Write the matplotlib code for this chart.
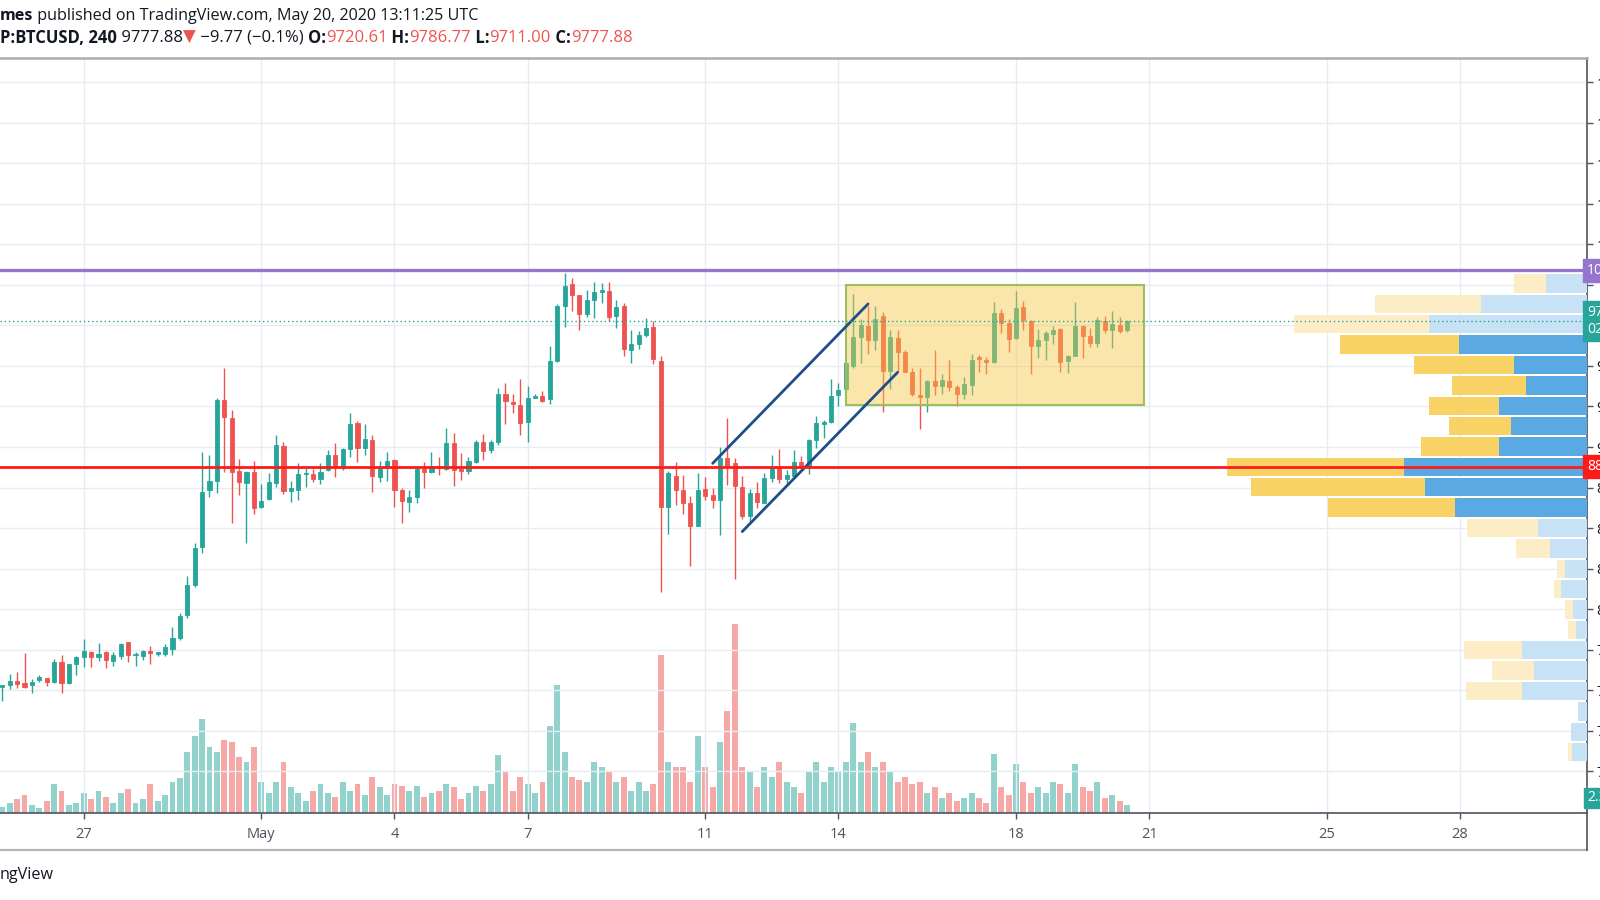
import datetime as dt
import numpy as np
import matplotlib
matplotlib.use('Agg')
import matplotlib.pyplot as plt
import matplotlib.dates as mdates
import matplotlib.transforms as mtransforms
from matplotlib.patches import Rectangle
from matplotlib.lines import Line2D

plt.rcParams['font.family'] = ['Open Sans', 'DejaVu Sans']

# BTCUSD 4h candles, first bar Apr 25 2020 04:00 UTC
start = dt.datetime(2020, 4, 25, 4)
opens = [7520, 7531, 7558, 7541, 7533, 7562, 7574, 7547, 7675, 7543, 7660, 7701, 7732, 7706, 7732, 7681,
         7712, 7794, 7716, 7712, 7743, 7722, 7722, 7753, 7821, 7963, 8148, 8380, 8734, 8790, 9290, 9181,
         8854, 8776, 8848, 8627, 8677, 8780, 9006, 8730, 8734, 8831, 8833, 8800, 8858, 8951, 8868, 8986,
         9150, 8992, 9043, 8813, 8868, 8920, 8734, 8662, 8693, 8862, 8848, 8882, 8862, 9022, 8862, 8854,
         8909, 9033, 8981, 9033, 9325, 9280, 9259, 9156, 9304, 9317, 9294, 9531, 9872, 10004, 9938, 9821,
         9907, 9959, 9965, 9809, 9870, 9597, 9634, 9691, 9743, 9528, 8628, 8818, 8735, 8653, 8513, 8742,
         8704, 8670, 8931, 8900, 8752, 8575, 8715, 8657, 8807, 8869, 8801, 8822, 8910, 8875, 9044, 9141,
         9157, 9322, 9357, 9500, 9682, 9744, 9662, 9810, 9472, 9672, 9589, 9466, 9324, 9308, 9406, 9377,
         9410, 9373, 9328, 9380, 9554, 9538, 9522, 9830, 9764, 9672, 9867, 9775, 9624, 9662, 9699, 9727,
         9528, 9563, 9748, 9686, 9645, 9775, 9723, 9754, 9720.61]
highs = [7530, 7599, 7613, 7726, 7568, 7590, 7576, 7691, 7716, 7660, 7712, 7815, 7739, 7788, 7739, 7732,
         7790, 7798, 7732, 7747, 7774, 7737, 7784, 7887, 7973, 8203, 8409, 8971, 8951, 9300, 9486, 9228,
         8924, 8850, 8913, 8771, 8841, 9074, 9033, 8792, 8903, 8868, 8862, 8903, 8981, 9023, 8992, 9208,
         9162, 9142, 9074, 8913, 8971, 8924, 8749, 8734, 8868, 8909, 8971, 8936, 9119, 9084, 8965, 8936,
         9043, 9080, 9043, 9362, 9397, 9325, 9418, 9376, 9327, 9348, 9623, 9881, 10072, 10041, 9940, 9969,
         10021, 10010, 10021, 9907, 9887, 9722, 9716, 9794, 9778, 9559, 8849, 8910, 8828, 8698, 8842, 8814,
         8746, 9003, 9182, 8931, 8822, 8740, 8787, 8842, 8951, 8986, 8859, 8982, 8945, 9048, 9192, 9168,
         9419, 9394, 9520, 9945, 9789, 9871, 9871, 9836, 9723, 9723, 9600, 9487, 9487, 9415, 9596, 9452,
         9534, 9384, 9435, 9575, 9569, 9554, 9892, 9851, 9789, 9964, 9904, 9781, 9727, 9713, 9748, 9734,
         9569, 9898, 9754, 9734, 9801, 9810, 9840, 9801, 9786.77]
lows = [7435, 7506, 7512, 7512, 7479, 7547, 7527, 7541, 7481, 7537, 7595, 7640, 7640, 7677, 7636, 7646,
        7689, 7671, 7646, 7685, 7660, 7712, 7712, 7716, 7809, 7942, 8138, 8348, 8689, 8718, 8848, 8533,
        8704, 8405, 8586, 8621, 8673, 8751, 8708, 8662, 8673, 8755, 8782, 8771, 8854, 8813, 8858, 8940,
        8909, 8951, 8724, 8786, 8792, 8631, 8528, 8601, 8652, 8745, 8837, 8827, 8858, 8759, 8796, 8833,
        8903, 8920, 8965, 9012, 9142, 9212, 9074, 9033, 9300, 9280, 9265, 9522, 9743, 9839, 9722, 9804,
        9798, 9887, 9778, 9732, 9562, 9516, 9603, 9677, 9510, 8108, 8464, 8643, 8587, 8266, 8511, 8674,
        8622, 8458, 8766, 8184, 8554, 8530, 8622, 8657, 8787, 8777, 8766, 8818, 8863, 8834, 8993, 9054,
        9151, 9254, 9353, 9487, 9517, 9575, 9600, 9213, 9357, 9472, 9460, 9312, 9110, 9213, 9322, 9326,
        9343, 9254, 9295, 9322, 9466, 9452, 9517, 9703, 9589, 9666, 9723, 9450, 9548, 9538, 9637, 9460,
        9456, 9559, 9548, 9616, 9616, 9703, 9610, 9703, 9711.00]
closes = [7528, 7558, 7537, 7520, 7551, 7582, 7547, 7671, 7545, 7660, 7701, 7739, 7701, 7722, 7687, 7716,
          7784, 7716, 7722, 7739, 7726, 7732, 7767, 7821, 7959, 8148, 8374, 8724, 8790, 9290, 9187, 8848,
          8786, 8848, 8625, 8669, 8782, 9012, 8730, 8745, 8831, 8841, 8802, 8848, 8951, 8874, 8986, 9140,
          8992, 9047, 8821, 8878, 8913, 8734, 8668, 8689, 8862, 8848, 8882, 8870, 9022, 8858, 8854, 8915,
          9033, 8977, 9029, 9327, 9286, 9265, 9150, 9304, 9315, 9286, 9531, 9872, 9994, 9938, 9821, 9907,
          9959, 9969, 9804, 9862, 9603, 9634, 9691, 9737, 9543, 8632, 8838, 8735, 8657, 8513, 8735, 8698,
          8670, 8931, 8880, 8760, 8575, 8715, 8663, 8807, 8879, 8801, 8828, 8910, 8879, 9044, 9147, 9153,
          9316, 9353, 9517, 9678, 9750, 9662, 9789, 9472, 9678, 9589, 9466, 9328, 9308, 9410, 9377, 9415,
          9373, 9328, 9390, 9538, 9542, 9522, 9826, 9764, 9666, 9857, 9781, 9624, 9662, 9703, 9723, 9522,
          9559, 9744, 9686, 9641, 9785, 9723, 9760, 9719, 9777.88]
volumes = [240, 400, 560, 720, 320, 200, 480, 1120, 880, 320, 400, 800, 560, 880, 640, 400,
           800, 960, 400, 560, 1120, 480, 720, 1200, 1360, 2400, 3000, 3680, 2600, 2400, 2880, 2800,
           2200, 2000, 2600, 1200, 800, 1200, 2000, 1000, 800, 480, 880, 1120, 800, 640, 1200, 880,
           1120, 720, 1400, 1000, 720, 1120, 1040, 880, 1040, 640, 800, 880, 1120, 1000, 560, 800,
           1040, 880, 1120, 2280, 1600, 880, 1400, 1120, 800, 1200, 3400, 5000, 2400, 1400, 1280, 1200,
           2000, 1800, 1600, 1200, 1400, 880, 1200, 880, 1120, 6200, 2000, 1800, 1800, 1200, 3000, 1800,
           1000, 2800, 4000, 7400, 1800, 1600, 1000, 1800, 1400, 2000, 1200, 1000, 800, 1600, 2000, 1200,
           1800, 1600, 2000, 3520, 2000, 2400, 1800, 2000, 1600, 1200, 1400, 1120, 1200, 800, 1000, 600,
           800, 480, 600, 800, 600, 400, 2320, 1000, 720, 1920, 1200, 800, 1000, 800, 1200, 1120,
           800, 1920, 1000, 880, 1200, 600, 720, 480, 320]

# visible-range volume profile, rows from top (10072) to bottom (7054)
vp_top, vp_bottom = 10072, 7054
vp_up = [40, 104, 155, 125, 72, 60, 86, 74, 86, 179, 159, 129, 48, 36, 22, 25, 14, 11, 64, 52, 64, 9, 16, 15]
vp_down = [32, 104, 132, 117, 98, 72, 69, 61, 77, 174, 170, 125, 70, 34, 7, 7, 8, 8, 57, 41, 55, 0, 0, 4]
value_area = range(3, 12)

resistance = 10091
support = 8878
last_price = 9777.88
box_t = [dt.datetime(2020, 5, 14, 4), dt.datetime(2020, 5, 20, 21)]
box_p = [9260, 10000]
chan1_t = [dt.datetime(2020, 5, 11, 4), dt.datetime(2020, 5, 14, 16)]
chan1_p = [8899, 9883]
chan2_t = [dt.datetime(2020, 5, 11, 20), dt.datetime(2020, 5, 15, 8)]
chan2_p = [8478, 9461]

day_ticks = [dt.datetime(2020, 4, 27), dt.datetime(2020, 5, 1), dt.datetime(2020, 5, 4), dt.datetime(2020, 5, 7),
             dt.datetime(2020, 5, 11), dt.datetime(2020, 5, 14), dt.datetime(2020, 5, 18),
             dt.datetime(2020, 5, 21), dt.datetime(2020, 5, 25), dt.datetime(2020, 5, 28)]
day_labels = ['27', 'May', '4', '7', '11', '14', '18', '21', '25', '28']

UP, DOWN = '#26a69a', '#ef5350'
GRID = '#e6ecf2'
TXT = '#131722'

times = [start + dt.timedelta(hours=4 * i) for i in range(len(opens))]
x = mdates.date2num(times)
o, h, l, c = map(np.array, (opens, highs, lows, closes))
up = c >= o
cols = np.where(up, UP, DOWN)
bar_w = 4 / 24

fig = plt.figure(figsize=(16, 9), dpi=100, facecolor='white')
pos = [0, 87 / 900, 1587 / 1600, 755 / 900]
axv = fig.add_axes(pos)
ax = fig.add_axes(pos)
ax.set_zorder(axv.get_zorder() + 1)
ax.patch.set_visible(False)

# volume
vcols = np.where(up, '#26a69a80', '#ef535080')
axv.bar(x, volumes, width=bar_w * 0.8, color=vcols, linewidth=0)
axv.set_ylim(0, 29600)
axv.set_yticks([])
axv.set_xticks([])
for s in axv.spines.values():
    s.set_visible(False)

# candles
ax.vlines(x, l, h, colors=cols, linewidth=1.0, zorder=2)
ax.bar(x, c - o, bottom=o, width=bar_w * 0.55, color=cols, edgecolor=cols, linewidth=0.6, zorder=2)

xmin = mdates.date2num(dt.datetime(2020, 4, 25, 2, 45))
xmax = mdates.date2num(dt.datetime(2020, 5, 30, 20, 40))
ax.set_xlim(xmin, xmax)
axv.set_xlim(xmin, xmax)
ax.set_ylim(6741, 11401)

ax.set_yticks(np.arange(7000, 11251, 250))
ax.yaxis.set_major_formatter(matplotlib.ticker.FormatStrFormatter('%.2f'))
ax.yaxis.tick_right()
ax.set_xticks(mdates.date2num(day_ticks))
ax.set_xticklabels(day_labels)
ax.tick_params(axis='x', length=4, width=1, color='#50535e', pad=6, labelsize=10.5, labelcolor='#50535e')
ax.tick_params(axis='y', length=4, width=1, color='#50535e', pad=3, labelsize=10.5, labelcolor=TXT)
ax.grid(True, color=GRID, linewidth=1, zorder=0)
ax.set_axisbelow(True)
ax.spines['left'].set_visible(False)
ax.spines['right'].set_color('#50535e')
ax.spines['right'].set_linewidth(1.2)
ax.spines['bottom'].set_color('#50535e')
ax.spines['bottom'].set_linewidth(1.2)
ax.spines['top'].set_color('#a9acb4')
ax.spines['top'].set_linewidth(1.8)

# drawings
bx0 = mdates.date2num(box_t[0])
bw = mdates.date2num(box_t[1]) - bx0
ax.add_patch(Rectangle((bx0, box_p[0]), bw, box_p[1] - box_p[0],
                       facecolor='#f5c846', alpha=0.45, edgecolor='none', zorder=3))
ax.add_patch(Rectangle((bx0, box_p[0]), bw, box_p[1] - box_p[0],
                       facecolor='none', edgecolor='#9dbd5e', linewidth=1.5, zorder=3))
ax.plot(mdates.date2num(chan1_t), chan1_p, color='#1f4e8a', linewidth=2.0, zorder=4, solid_capstyle='round')
ax.plot(mdates.date2num(chan2_t), chan2_p, color='#1f4e8a', linewidth=2.0, zorder=4, solid_capstyle='round')

# volume profile
edges = np.linspace(vp_top, vp_bottom, len(vp_up) + 1)
centers = (edges[:-1] + edges[1:]) / 2
step = edges[0] - edges[1]
vu, vd = np.array(vp_up), np.array(vp_down)
axp = ax.inset_axes([0, 0, 1, 1])
axp.set_ylim(ax.get_ylim())
axp.set_xlim((vu + vd).max() / 0.227, 0)
axp.axis('off')
for k in range(len(vu)):
    strong = k in value_area
    axp.barh(centers[k], vu[k], height=step * 0.9, left=0,
             color='#5aa9e3' if strong else '#c8e2f5', linewidth=0)
    axp.barh(centers[k], vd[k], height=step * 0.9, left=vu[k],
             color='#f9d266' if strong else '#fdedc6', linewidth=0)

axp.axhline(resistance, color='#9575cd', linewidth=2.4)
axp.axhline(support, color='#ff1a1a', linewidth=2.0)
axp.axhline(last_price, color='#26a69a', linewidth=1.0, linestyle=(0, (1, 2)))

# right-hand price labels (cut off by the image edge, as in the screenshot)
tr = mtransforms.blended_transform_factory(ax.transAxes, ax.transData)
for p, txt, col in [(resistance, '10091.00', '#9575cd'), (last_price, '9777.88\n02:48:35', '#26a69a'),
                    (support, '8878.00', '#ff1a1a')]:
    ax.text(1.0, p, txt, transform=tr, ha='left', va='center', color='white', fontsize=10,
            bbox=dict(boxstyle='square,pad=0.3', facecolor=col, edgecolor=col), clip_on=False, zorder=6)
ax.text(1.0, 0.02, '2.32K', transform=ax.transAxes, ha='left', va='center', color='white', fontsize=10,
        bbox=dict(boxstyle='square,pad=0.2', facecolor='#26a69a', edgecolor='#26a69a'), clip_on=False)

# bottom line of the time scale
fig.add_artist(Line2D([0, 1587 / 1600], [50 / 900, 50 / 900], color='#b2b5be', linewidth=1.6))
fig.add_artist(Line2D([1587 / 1600, 1587 / 1600], [50 / 900, 87 / 900], color='#50535e', linewidth=1.2))

# header
renderer = fig.canvas.get_renderer()


def header(parts, y, size):
    xpos = 0.0
    for s, col, wt in parts:
        t = fig.text(xpos, y, s, color=col, fontweight=wt, fontsize=size, va='center', ha='left')
        xpos += t.get_window_extent(renderer=renderer).width / fig.bbox.width


header([('mes', TXT, 'bold'), (' published on TradingView.com, May 20, 2020 13:11:25 UTC', TXT, 'normal')],
       1 - 15.5 / 900, 11.6)
header([('P:BTCUSD, 240', TXT, 'bold'), (' 9777.88', TXT, 'normal'), ('▼', DOWN, 'normal'),
        (' −9.77 (−0.1%) ', TXT, 'normal'), ('O:', TXT, 'bold'), ('9720.61', DOWN, 'normal'),
        (' H:', TXT, 'bold'), ('9786.77', DOWN, 'normal'), (' L:', TXT, 'bold'), ('9711.00', DOWN, 'normal'),
        (' C:', TXT, 'bold'), ('9777.88', DOWN, 'normal')], 1 - 38 / 900, 12.0)
fig.text(0, 1 - 875 / 900, 'ngView', color=TXT, fontsize=11.6, va='center', ha='left')

fig.savefig('out.png', dpi=100, facecolor='white')
